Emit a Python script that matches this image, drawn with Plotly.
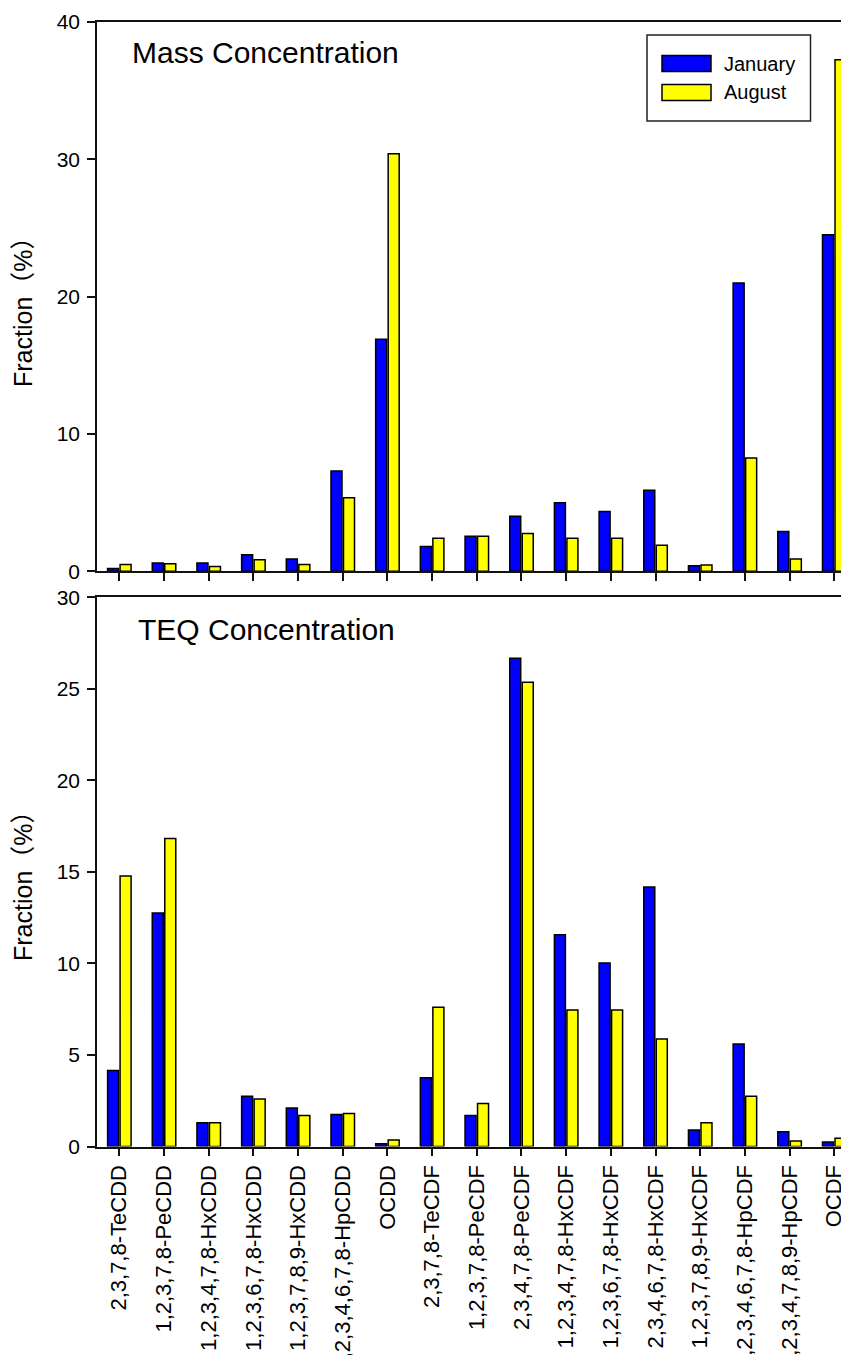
import plotly.graph_objects as go
from plotly.subplots import make_subplots

categories = [
    "2,3,7,8-TeCDD", "1,2,3,7,8-PeCDD", "1,2,3,4,7,8-HxCDD", "1,2,3,6,7,8-HxCDD",
    "1,2,3,7,8,9-HxCDD", "1,2,3,4,6,7,8-HpCDD", "OCDD", "2,3,7,8-TeCDF",
    "1,2,3,7,8-PeCDF", "2,3,4,7,8-PeCDF", "1,2,3,4,7,8-HxCDF", "1,2,3,6,7,8-HxCDF",
    "2,3,4,6,7,8-HxCDF", "1,2,3,7,8,9-HxCDF", "1,2,3,4,6,7,8-HpCDF",
    "1,2,3,4,7,8,9-HpCDF", "OCDF",
]

mass_january = [0.2, 0.6, 0.6, 1.2, 0.9, 7.3, 16.9, 1.8, 2.55, 4.0, 5.0, 4.35, 5.9, 0.4, 21.0, 2.9, 24.5]
mass_august = [0.5, 0.55, 0.35, 0.85, 0.5, 5.35, 30.4, 2.4, 2.55, 2.75, 2.4, 2.4, 1.9, 0.45, 8.25, 0.9, 37.25]

teq_january = [4.15, 12.76, 1.3, 2.75, 2.1, 1.75, 0.15, 3.75, 1.7, 26.67, 11.56, 10.03, 14.18, 0.9, 5.6, 0.8, 0.25]
teq_august = [14.77, 16.82, 1.3, 2.6, 1.7, 1.8, 0.35, 7.6, 2.35, 25.36, 7.45, 7.45, 5.87, 1.3, 2.75, 0.3, 0.45]

mass_ticks = [0, 10, 20, 30, 40]
teq_ticks = [0, 5, 10, 15, 20, 25, 30]

series_names = ["January", "August"]
series_colors = ["#0000FF", "#FFFF00"]

# page body adds an 8px margin; size the figure so the plot lands where the reference has it
OFF = 8
W, H = 849 - OFF, 1355 - OFF
L = 97 - OFF
PW = W - L

FONT = "Arial, Liberation Sans, Noto Sans CJK SC, sans-serif"

fig = make_subplots(rows=2, cols=1, shared_xaxes=False, vertical_spacing=0.02)

x_idx = list(range(len(categories)))

for row, (jan, aug) in enumerate([(mass_january, mass_august), (teq_january, teq_august)], start=1):
    for name, vals, col in zip(series_names, [jan, aug], series_colors):
        fig.add_trace(
            go.Bar(
                x=x_idx, y=vals, name=name,
                marker=dict(color=col, line=dict(color="black", width=1.5)),
                showlegend=False,
            ),
            row=row, col=1,
        )

def py2paper(py):
    return 1 - (py - OFF) / H

def px2paper(px):
    return (px - OFF - L) / PW

top_dom = [py2paper(571.3), py2paper(22)]
bot_dom = [py2paper(1146.5), py2paper(597.3)]

axis_common = dict(
    showline=True, linecolor="#111111", linewidth=1.5,
    ticks="outside", ticklen=8, tickwidth=1.5, tickcolor="#111111",
    showgrid=False, zeroline=False, automargin=False,
    tickfont=dict(family=FONT, size=21, color="black"),
)

fig.update_xaxes(
    **axis_common, mirror=True, range=[-0.5, 16.33],
    tickmode="array", tickvals=x_idx,
)
fig.update_xaxes(showticklabels=False, domain=[0, 1], row=1, col=1)
fig.update_xaxes(
    ticktext=categories, showticklabels=True, tickangle=-90,
    tickfont=dict(family=FONT, size=22, color="black"),
    domain=[0, 1], row=2, col=1,
)

fig.update_yaxes(**axis_common, mirror=False, ticklabelstandoff=3)
fig.update_yaxes(range=[0, 40], tickvals=mass_ticks, domain=top_dom, row=1, col=1)
fig.update_yaxes(range=[0, 30], tickvals=teq_ticks, domain=bot_dom, row=2, col=1)

annotations = [
    dict(text="Mass Concentration", x=px2paper(130), y=py2paper(53), xref="paper", yref="paper",
         xanchor="left", yanchor="middle", showarrow=False,
         font=dict(family=FONT, size=30, color="black")),
    dict(text="TEQ Concentration", x=px2paper(136), y=py2paper(630), xref="paper", yref="paper",
         xanchor="left", yanchor="middle", showarrow=False,
         font=dict(family=FONT, size=30, color="black")),
    dict(text="Fraction（%）", x=px2paper(23), y=py2paper(306), xref="paper", yref="paper",
         xanchor="center", yanchor="middle", showarrow=False, textangle=-90,
         font=dict(family=FONT, size=25, color="black")),
    dict(text="Fraction（%）", x=px2paper(23), y=py2paper(880), xref="paper", yref="paper",
         xanchor="center", yanchor="middle", showarrow=False, textangle=-90,
         font=dict(family=FONT, size=25, color="black")),
]

# custom legend
shapes = [
    dict(type="rect", xref="paper", yref="paper",
         x0=px2paper(647), x1=px2paper(810.5), y0=py2paper(121), y1=py2paper(35),
         line=dict(color="#222222", width=1.5), fillcolor="white", layer="above"),
]
leg_rows = [(55.5, 71.5), (84.5, 100.5)]
for (y0, y1), name, col in zip(leg_rows, series_names, series_colors):
    shapes.append(dict(type="rect", xref="paper", yref="paper",
                       x0=px2paper(662), x1=px2paper(711), y0=py2paper(y1), y1=py2paper(y0),
                       line=dict(color="black", width=1.5), fillcolor=col, layer="above"))
    annotations.append(dict(text=name, x=px2paper(722), y=py2paper((y0 + y1) / 2),
                            xref="paper", yref="paper", xanchor="left", yanchor="middle",
                            showarrow=False, font=dict(family=FONT, size=20, color="black")))

fig.update_layout(
    width=W, height=H,
    margin=dict(l=L, r=0, t=0, b=0),
    paper_bgcolor="white", plot_bgcolor="white",
    barmode="group", bargap=0.44, bargroupgap=0.12,
    annotations=annotations, shapes=shapes,
    font=dict(family=FONT, color="black"),
)

fig.write_html("out.html")
